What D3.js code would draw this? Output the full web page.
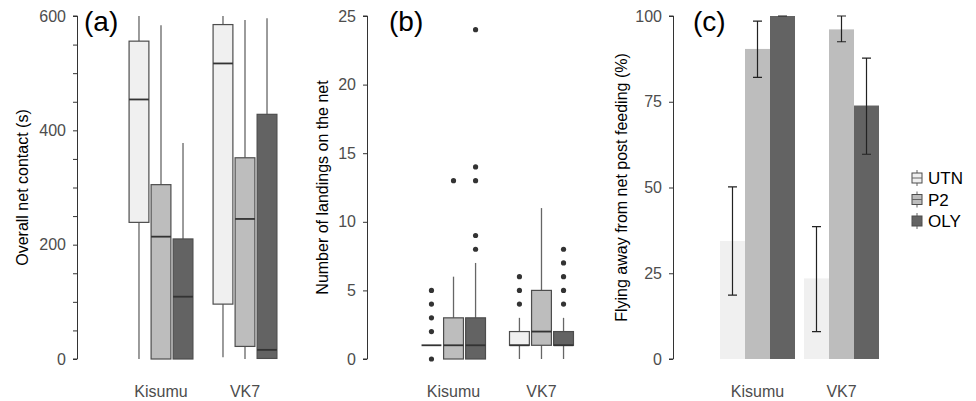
<!DOCTYPE html>
<html>
<head>
<meta charset="utf-8">
<script src="https://cdn.jsdelivr.net/npm/d3@7"></script>
<style>
  body { margin: 0; background: #fff; }
  text { font-family: "Liberation Sans", Arial, sans-serif; }
</style>
</head>
<body>
<div id="chart"></div>
<script>
// categories
var groups = ["Kisumu", "VK7"];
var treatments = ["UTN", "P2", "OLY"];
var fills = ["#f0f0f0", "#bdbdbd", "#636363"];

// (a) overall net contact: [low whisker, q1, median, q3, high whisker] per treatment
var contactKisumu = [[0, 239, 454, 556, 600], [0, 0, 214, 305, 584], [0, 0, 109, 210, 378]];
var contactVK7 = [[3, 96, 517, 585, 600], [0, 22, 245, 352, 593], [0, 1, 16, 428, 596]];

// (b) number of landings
var landingsKisumu = [[1, 1, 1, 1, 1], [0, 0, 1, 3, 6], [0, 0, 1, 3, 7]];
var landingsVK7 = [[0, 1, 1, 2, 3], [0, 1, 2, 5, 11], [0, 1, 1, 2, 3]];
var landingsOutKisumu = [[0, 2, 3, 4, 5], [13], [8, 9, 13, 14, 24]];
var landingsOutVK7 = [[4, 5, 6], [], [4, 5, 6, 7, 8]];

// (c) flying away %, with error bar limits
var flyingKisumu = [34.4, 90.4, 100];
var flyingVK7 = [23.5, 96.1, 73.9];
var flyingLoKisumu = [18.6, 82.1, 100];
var flyingHiKisumu = [50.2, 98.5, 100];
var flyingLoVK7 = [8, 92.5, 59.7];
var flyingHiVK7 = [38.6, 100, 87.7];

var W = 976, H = 401, yTop = 16, yBot = 359;

var svg = d3.select("#chart").append("svg")
	.attr("width", W)
	.attr("height", H);

function makeBox(d, i, g) {
	return {group: g, trt: treatments[i], fill: fills[i], lo: d[0], q1: d[1], med: d[2], q3: d[3], hi: d[4]};
}

function drawAxis(y, axisX, tickVals, labelVals, title, titleX, letter, letterX) {
	var ax = svg.append("g")
		.attr("transform", "translate(" + axisX + ",0)")
		.call(d3.axisLeft(y).tickValues(tickVals).tickSize(4).tickPadding(7)
			.tickFormat(function(v) { return labelVals.indexOf(v) >= 0 ? v : ""; }));
	ax.select(".domain").attr("stroke", "#333").attr("d", "M-4," + y(tickVals[tickVals.length - 1]) + "H0.5V" + y(0) + "H-4");
	ax.selectAll(".tick line").attr("stroke", "#333");
	ax.selectAll(".tick text").attr("fill", "#4d4d4d").style("font-size", "16px");

	svg.append("text")
		.attr("transform", "translate(" + titleX + "," + ((yTop + yBot) / 2) + ") rotate(-90)")
		.attr("text-anchor", "middle")
		.attr("dy", "0.35em")
		.style("font-size", "16px")
		.attr("fill", "#000")
		.text(title);

	svg.append("text")
		.attr("x", letterX)
		.attr("y", 31)
		.style("font-size", "28px")
		.attr("fill", "#000")
		.text(letter);
}

function drawXLabels(x) {
	svg.append("g").selectAll("text")
		.data(groups)
		.enter().append("text")
		.attr("x", function(d) { return x(d) + x.bandwidth() / 2; })
		.attr("y", 397)
		.attr("text-anchor", "middle")
		.attr("fill", "#4d4d4d")
		.style("font-size", "16px")
		.text(function(d) { return d; });
}

function drawBoxes(data, x, sub, y) {
	var g = svg.append("g");
	var box = g.selectAll(".box").data(data).enter().append("g")
		.attr("class", "box")
		.attr("transform", function(d) { return "translate(" + (x(d.group) + sub(d.trt)) + ",0)"; });
	var bw = sub.bandwidth();
	// whiskers
	box.append("line")
		.attr("x1", bw / 2).attr("x2", bw / 2)
		.attr("y1", function(d) { return y(d.q3); })
		.attr("y2", function(d) { return y(d.hi); })
		.attr("stroke", "#666").attr("stroke-width", 1.3);
	box.append("line")
		.attr("x1", bw / 2).attr("x2", bw / 2)
		.attr("y1", function(d) { return y(d.q1); })
		.attr("y2", function(d) { return y(d.lo); })
		.attr("stroke", "#666").attr("stroke-width", 1.3);
	box.filter(function(d) { return d.q3 > d.q1; }).append("rect")
		.attr("x", 0)
		.attr("width", bw)
		.attr("y", function(d) { return y(d.q3); })
		.attr("height", function(d) { return y(d.q1) - y(d.q3); })
		.attr("fill", function(d) { return d.fill; })
		.attr("stroke", "#4d4d4d").attr("stroke-width", 1.2);
	box.append("line")
		.attr("x1", 0).attr("x2", bw)
		.attr("y1", function(d) { return y(d.med); })
		.attr("y2", function(d) { return y(d.med); })
		.attr("stroke", "#333").attr("stroke-width", 1.8);
	return box;
}

// ---------- (a)
var ya = d3.scaleLinear().domain([0, 600]).range([yBot, yTop]);
var xa = d3.scaleBand().domain(groups).range([77, 329]).paddingInner(0.24).paddingOuter(0.62);
var sa = d3.scaleBand().domain(treatments).range([0, xa.bandwidth()]).paddingInner(0.1);
drawAxis(ya, 77, d3.range(0, 601, 50), [0, 200, 400, 600], "Overall net contact (s)", 22, "(a)", 84);
var contactData = contactKisumu.map(function(d, i) { return makeBox(d, i, "Kisumu"); })
	.concat(contactVK7.map(function(d, i) { return makeBox(d, i, "VK7"); }));
drawBoxes(contactData, xa, sa, ya);
drawXLabels(xa);

// ---------- (b)
var yb = d3.scaleLinear().domain([0, 25]).range([yBot, yTop]);
var xb = d3.scaleBand().domain(groups).range([367, 628]).paddingInner(0.273).paddingOuter(0.62);
var sb = d3.scaleBand().domain(treatments).range([0, xb.bandwidth()]).paddingInner(0.1);
drawAxis(yb, 367, [0, 5, 10, 15, 20, 25], [0, 5, 10, 15, 20, 25], "Number of landings on the net", 322, "(b)", 389);
var landingsData = landingsKisumu.map(function(d, i) {
	var b = makeBox(d, i, "Kisumu"); b.out = landingsOutKisumu[i]; return b;
}).concat(landingsVK7.map(function(d, i) {
	var b = makeBox(d, i, "VK7"); b.out = landingsOutVK7[i]; return b;
}));
var bbox = drawBoxes(landingsData, xb, sb, yb);
bbox.selectAll(".out").data(function(d) { return d.out; })
	.enter().append("circle")
	.attr("class", "out")
	.attr("cx", sb.bandwidth() / 2)
	.attr("cy", function(v) { return yb(v); })
	.attr("r", 2.6)
	.attr("fill", "#333");
drawXLabels(xb);

// ---------- (c)
var yc = d3.scaleLinear().domain([0, 100]).range([yBot, yTop]);
var xc = d3.scaleBand().domain(groups).range([672.7, 926.3]).paddingInner(0.107).paddingOuter(0.563);
var sc = d3.scaleBand().domain(treatments).range([0, xc.bandwidth()]);
drawAxis(yc, 673, [0, 25, 50, 75, 100], [0, 25, 50, 75, 100], "Flying away from net post feeding (%)", 621, "(c)", 693);
var flyData = [];
groups.forEach(function(g) {
	var m = g == "Kisumu" ? flyingKisumu : flyingVK7;
	var lo = g == "Kisumu" ? flyingLoKisumu : flyingLoVK7;
	var hi = g == "Kisumu" ? flyingHiKisumu : flyingHiVK7;
	treatments.forEach(function(t, i) {
		flyData.push({group: g, trt: t, fill: fills[i], v: m[i], lo: lo[i], hi: hi[i]});
	});
});
var bars = svg.append("g").selectAll(".bar").data(flyData).enter().append("g")
	.attr("class", "bar")
	.attr("transform", function(d) { return "translate(" + (xc(d.group) + sc(d.trt)) + ",0)"; });
bars.append("rect")
	.attr("x", 0)
	.attr("width", sc.bandwidth())
	.attr("y", function(d) { return yc(d.v); })
	.attr("height", function(d) { return yBot - yc(d.v); })
	.attr("fill", function(d) { return d.fill; });
var cx = sc.bandwidth() / 2, cap = 4.5;
bars.append("path")
	.attr("d", function(d) {
		return "M" + (cx - cap) + "," + yc(d.hi) + "H" + (cx + cap) +
			"M" + cx + "," + yc(d.hi) + "V" + yc(d.lo) +
			"M" + (cx - cap) + "," + yc(d.lo) + "H" + (cx + cap);
	})
	.attr("fill", "none")
	.attr("stroke", "#222").attr("stroke-width", 1.2);
drawXLabels(xc);

// ---------- legend
var legend = svg.append("g").selectAll(".key").data(treatments).enter().append("g")
	.attr("class", "key")
	.attr("transform", function(d, i) { return "translate(912," + (178 + i * 21.5) + ")"; });
legend.append("line")
	.attr("x1", 5).attr("x2", 5).attr("y1", -8).attr("y2", 8)
	.attr("stroke", "#666");
legend.append("rect")
	.attr("x", 0).attr("y", -5).attr("width", 10).attr("height", 10)
	.attr("fill", function(d, i) { return fills[i]; })
	.attr("stroke", "#4d4d4d");
legend.append("line")
	.attr("x1", 0).attr("x2", 10).attr("y1", 0).attr("y2", 0)
	.attr("stroke", "#666");
legend.append("text")
	.attr("x", 16)
	.attr("dy", "0.36em")
	.style("font-size", "17px")
	.attr("fill", "#000")
	.text(function(d) { return d; });
</script>
</body>
</html>
